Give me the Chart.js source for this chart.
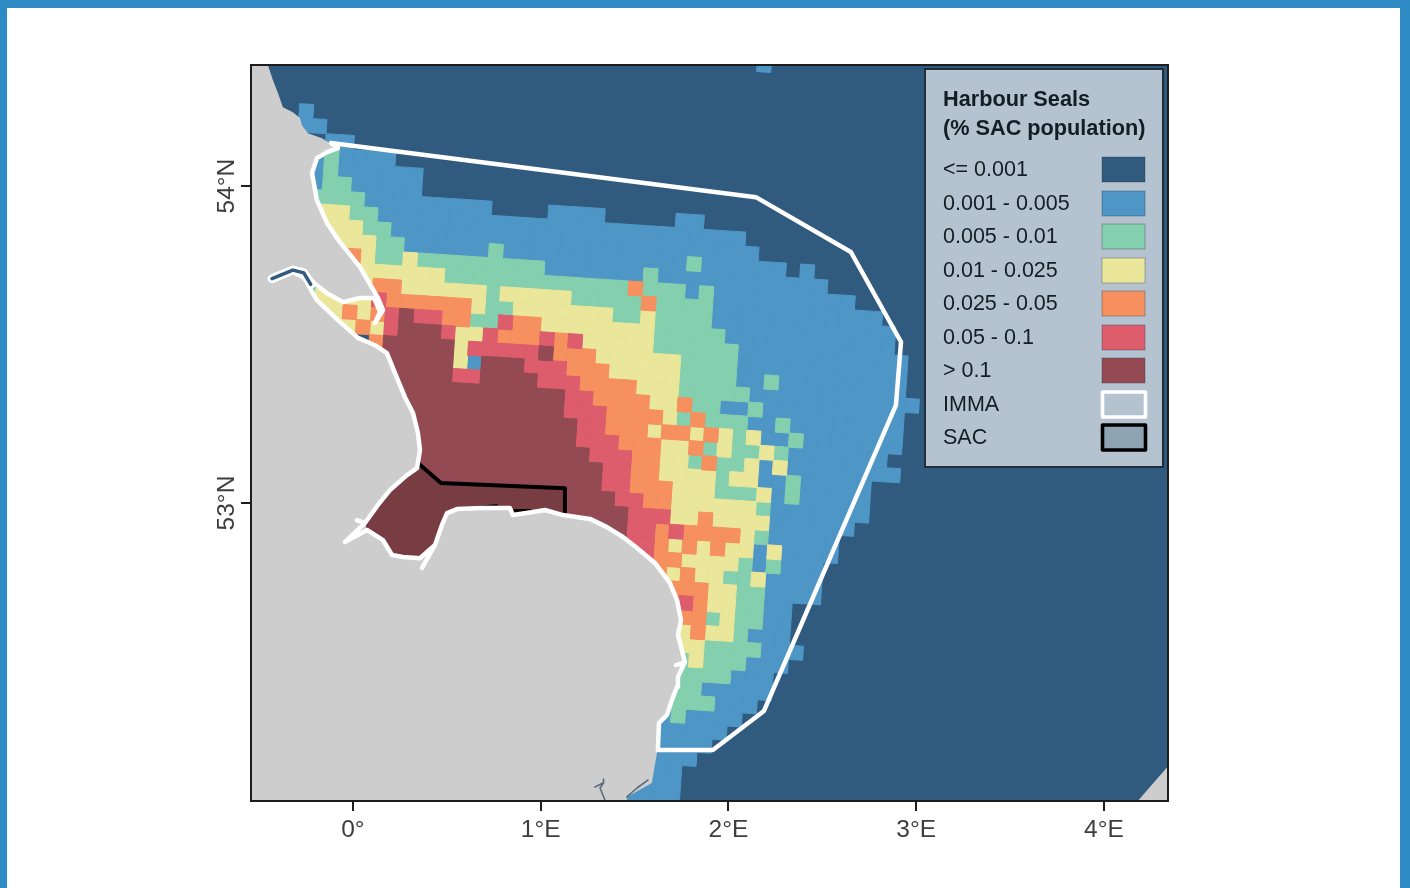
<!DOCTYPE html>
<html><head><meta charset="utf-8">
<style>
html,body{margin:0;padding:0;background:#2e8bc3;width:1410px;height:888px;overflow:hidden}
#panel{position:absolute;left:7px;top:8px;width:1393px;height:880px;background:#fff}
#c{position:absolute;left:0;top:0;filter:blur(0.35px)}
</style>
<script src="https://cdn.jsdelivr.net/npm/chart.js@4"></script>
</head><body><div id="panel"></div><canvas id="c" width="1410" height="888"></canvas>
<script>
const lonRange=[-0.543,4.341];
const latRange=[52.06,54.382];
const lonTicks=[0,1,2,3,4];
const lonTickLabels=["0°","1°E","2°E","3°E","4°E"];
const latTicks=[53,54];
const latTickLabels=["53°N","54°N"];
const legendTitle=["Harbour Seals","(% SAC population)"];
const classLabels=["<= 0.001","0.001 - 0.005","0.005 - 0.01","0.01 - 0.025","0.025 - 0.05","0.05 - 0.1","> 0.1"];
const classColors=["#305a7e","#4e96c6","#84d0ae","#ebe79a","#f6905f","#dd5d6c","#934a52"];

// raster cells: [row, "fromCol-toCol:class ..."]  class 2..7 (class 1 is the sea behind)
const cellRows=[
[-2.4,"32:2"],[3,"0:2"],[4,"0-1:2"],[5,"2-3:2"],
[6,"1:2 2:3 3-6:2"],[7,"1:2 2:3 3-8:2"],[8,"1:2 2-3:3 4-8:2"],
[9,"1-4:3 5-13:2 18-21:2 27-28:2"],
[10,"2-3:4 4-5:3 6-31:2"],
[11,"2-4:4 5-6:3 7-32:2"],
[12,"3-5:4 6-7:3 8-34:2 14:3 28:3 36:2"],
[13,"3:4 4:5 5:4 6-7:3 8:4 9-17:3 18-37:2 25:3"],
[14,"4-10:4 11-23:3 24:5 25-27:3 28:2 29:3 30-39:2"],
[15,"1:3 5:4 6-7:5 8-13:4 14:3 15-19:4 20-24:3 25:5 26-29:3 30-41:2"],
[16,"1:3 2-5:4 6:6 7-12:5 13:4 14-15:3 16-22:4 23-24:3 25:4 26-29:3 30-42:2"],
[17,"2-3:4 4:5 5:4 6:5 7:6 8:7 9-10:6 11-12:5 13-14:3 15:6 16-17:5 18-25:4 26-30:3 31-42:2"],
[18,"3-4:4 5:5 6:4 7:6 8-10:7 11:6 12-13:4 14:6 15-17:5 18:6 19:5 20:6 21-25:4 26-31:3 32-43:2"],
[19,"6:5 7-11:7 12:4 13-17:6 18:7 19-21:5 22-27:4 28-31:3 32-43:2"],
[20,"7-11:7 12:4 13:2 14-16:7 17-19:6 20-22:5 23-27:4 28-31:3 32-43:2 34:3"],
[21,"7-11:7 12-13:6 14-17:7 18-20:6 21-24:5 25-27:4 28-32:3 33-44:2"],
[22,"7-19:7 20-21:6 22-25:5 26-27:4 28:5 29-30:3 31-32:2 33:3 34-43:2"],
[23,"7-19:7 20-22:6 23-26:5 27:4 28:3 29:5 30-32:3 33-43:2 35:3"],
[24,"7-20:7 21-22:6 23-25:5 26:4 27-28:5 29:4 30:5 31:4 32:3 33:4 34-35:2 36:3 37-43:2"],
[25,"5-20:7 21-23:6 24-26:5 27-28:4 29:5 30:3 31:4 32-33:3 34:4 35:3 36-42:2"],
[26,"4-21:7 22-24:6 25-26:5 27-28:4 29:3 30:5 31-32:3 33:4 34:2 35:4 36-43:2"],
[27,"3-22:7 23-24:6 25-26:5 27-30:4 31:3 32-33:4 34-35:2 36:3 37-41:2"],
[28,"3-22:7 23-24:6 25-27:5 28-30:4 31-33:3 34:4 35:2 36:3 37-41:2"],
[29,"3-23:7 24-25:6 26-27:5 28-33:4 34:3 35-41:2"],
[30,"3-24:7 25-27:6 28-29:4 30:5 31-34:4 35-40:2"],
[31,"3-24:7 25-26:6 27:5 28:6 29-32:5 33:4 34:3 35-39:2"],
[32,"3-24:7 25-26:6 27:5 28:4 29:5 30:4 31:5 32-33:4 34:2 35:4 36-39:2"],
[33,"3-24:7 25-26:6 27-28:5 29-32:4 33:3 34:2 35:3 36-38:2"],
[34,"3-12:7 25-26:6 27:5 28:4 29:5 30-31:4 32-33:3 34:4 35-38:2"],
[35,"3-12:7 27-30:5 31-32:4 33-34:3 35-38:2"],
[36,"28:5 29:6 30:5 31-32:4 33-34:3 35-36:2"],
[37,"29-30:5 31:3 32:4 33-34:3 35-36:2"],
[38,"29:4 30:5 31-32:4 33:3 34-36:2"],
[39,"29-30:4 31-34:3 35-37:2"],
[40,"29:3 30:4 31-33:3 34-36:2"],
[41,"29-32:3 33-35:2"],
[42,"28:2 29-30:3 31-35:2"],
[43,"28:2 29-31:3 32-34:2"],
[44,"27-28:2 29:3 30-33:2"],
[45,"26-32:2"],[46,"26-31:2"],[47,"25-30:2"],[48,"25-29:2"],[49,"24-29:2"],[50,"23-29:2"]
];
// raster geometry in degrees (slightly rotated grid)
const gridOrigin=[-0.23365,54.3697], gridCol=[0.075366,-0.002946], gridRow=[-0.005007,-0.04444];

const coastNorth=[[-0.453,54.382],[-0.426,54.334],[-0.399,54.293],[-0.373,54.249],[-0.320,54.233],[-0.282,54.215],[-0.272,54.192],[-0.240,54.167],[-0.165,54.151],[-0.133,54.139]];
const coastMain=[[-0.080,54.120],[-0.138,54.107],[-0.192,54.088],[-0.218,54.041],[-0.192,53.956],[-0.138,53.883],[-0.069,53.823],[0.037,53.745],[0.133,53.647],[0.160,53.609],[0.117,53.568],[0.144,53.603],[0.112,53.647],[0.037,53.647],[-0.053,53.634],[-0.138,53.662],[-0.208,53.694],[-0.256,53.729],[-0.320,53.741],[-0.442,53.710],[-0.320,53.729],[-0.256,53.710],[-0.218,53.666],[-0.192,53.640],[-0.080,53.577],[0.027,53.521],[0.117,53.498],[0.181,53.473],[0.224,53.410],[0.277,53.334],[0.320,53.284],[0.346,53.221],[0.357,53.167]];
const coastWash=[[0.341,53.110],[0.288,53.088],[0.197,53.041],[0.133,52.994],[0.064,52.937],[0.075,52.915],[0.160,52.883],[0.208,52.836],[0.266,52.830],[0.357,52.826],[0.437,52.868],[0.474,52.931],[0.501,52.968],[0.554,52.981],[0.692,52.984],[0.836,52.984],[0.852,52.962],[0.959,52.972],[1.023,52.978],[1.118,52.962]];
const coastSouth=[[1.262,52.950],[1.353,52.924],[1.438,52.893],[1.513,52.858],[1.608,52.811],[1.688,52.748],[1.726,52.694],[1.747,52.631],[1.731,52.584],[1.752,52.536],[1.768,52.498],[1.731,52.451],[1.726,52.420],[1.699,52.379],[1.672,52.331],[1.630,52.306],[1.624,52.221]];
const coastBottom=[[1.619,52.211],[1.592,52.117],[1.459,52.073],[1.459,52.06]];
const landEast=[[4.18,52.06],[4.341,52.17],[4.341,52.06]];
const immaOffshore=[[-0.117,54.136],[2.146,53.965],[2.652,53.792],[2.919,53.508],[2.892,53.309],[2.189,52.344],[1.917,52.221],[1.624,52.221]];
const immaStubs=[[1.72,52.489],[0.367,52.795],[-0.043,52.877],[0.021,52.946]];
const sacBoundary=[[0.352,53.123],[0.469,53.063],[1.129,53.047],[1.129,52.962]];
const sacSpeckA=[[0.655,52.987],[0.767,52.994]];
const sacSpeckB=[[0.863,52.975],[0.943,52.975]];
const riverTail=[[-0.431,53.708],[-0.320,53.735],[-0.262,53.726],[-0.225,53.690]];
const creekA=[[1.289,52.104],[1.332,52.117],[1.337,52.129],[1.332,52.117],[1.316,52.101],[1.342,52.063]];
const creekB=[[1.459,52.073],[1.513,52.101],[1.571,52.126]];

const P=a=>a.map(p=>({x:p[0],y:p[1]}));
// expand raster rows into one point list per class
const cellsByClass={2:[],3:[],4:[],5:[],6:[],7:[]};
for(const [r,spec] of cellRows){
  const row={};
  for(const tok of spec.split(' ')){
    const [range,k]=tok.split(':');
    const [a,b]=range.split('-').map(Number);
    for(let c=a;c<=(b===undefined?a:b);c++) row[c]=+k;
  }
  for(const c in row){
    const i=+c;
    cellsByClass[row[c]].push({x:gridOrigin[0]+i*gridCol[0]+r*gridRow[0],y:gridOrigin[1]+i*gridCol[1]+r*gridRow[1]});
  }
}
const shape=(label,pts,color,order)=>({label,data:P(pts),showLine:true,fill:'shape',backgroundColor:color,borderColor:color,borderWidth:0,pointRadius:0,order});
const stroke=(label,pts,color,w,order)=>({label,data:P(pts),showLine:true,fill:false,borderColor:color,borderWidth:w,pointRadius:0,borderJoinStyle:'round',borderCapStyle:'round',order});

const datasets=[];
datasets.push(shape(classLabels[0],[[lonRange[0],latRange[1]],[lonRange[1],latRange[1]],[lonRange[1],latRange[0]],[lonRange[0],latRange[0]]],classColors[0],100));
for(let k=2;k<=7;k++){
  datasets.push({label:classLabels[k-1],data:cellsByClass[k],showLine:false,pointStyle:'rect',pointRotation:3.8,pointRadius:10,pointBorderWidth:1,
    backgroundColor:classColors[k-1],borderColor:classColors[k-1],pointBackgroundColor:classColors[k-1],pointBorderColor:classColors[k-1],clip:0,order:90-k});
}
datasets.push(shape('SAC area',[...sacBoundary,...coastWash.slice().reverse()],'rgba(0,0,0,0.18)',60));
const landOutline=[[lonRange[0],latRange[1]],...coastNorth,...coastMain,...coastWash,...coastSouth,...coastBottom,[lonRange[0],latRange[0]]];
datasets.push(shape('Land',landOutline,'#cdcdcd',50));
datasets.push(shape('Land east',landEast,'#cdcdcd',50));
datasets.push(stroke('Creek A',creekA,'#5c6b7a',1.6,45));
datasets.push(stroke('Creek B',creekB,'#5c6b7a',1.6,45));
datasets.push(stroke('SAC',sacBoundary,'#000',4,30));
datasets.push(stroke('SAC a',sacSpeckA,'#111',2,30));
datasets.push(stroke('SAC b',sacSpeckB,'#000',4,30));
// IMMA: offshore edge then back along the coast, with short spurs out and back
const south=coastSouth.slice().reverse(), wash=coastWash.slice().reverse(), main=coastMain.slice().reverse();
const imma=[...immaOffshore,...south.slice(1,7),immaStubs[0],...south.slice(6),
  ...wash.slice(0,10),immaStubs[1],...wash.slice(9,15),immaStubs[2],wash[15],immaStubs[3],...wash.slice(15),
  ...main,immaOffshore[0]];
datasets.push(stroke('IMMA',imma,'#fff',4.5,20));
datasets.push(stroke('River halo',riverTail,'#fff',9,11));
datasets.push(stroke('River',riverTail,classColors[0],3.5,10));

const legendPlugin={id:'mapLegend',afterDatasetsDraw(chart){
  const g=chart.ctx,a=chart.chartArea;
  g.save();
  g.strokeStyle='#1d1d1d';g.lineWidth=2;g.strokeRect(a.left,a.top,a.right-a.left,a.bottom-a.top);
  g.fillStyle='#b5c3d1';g.fillRect(925,69,238,398);
  g.strokeStyle='#1f2e3e';g.lineWidth=2;g.strokeRect(925,69,238,398);
  g.fillStyle='#141c24';g.textBaseline='middle';g.textAlign='left';
  g.font='bold 21.7px "Liberation Sans", Arial, sans-serif';
  g.fillText(legendTitle[0],943,100);g.fillText(legendTitle[1],943,129);
  g.font='21.5px "Liberation Sans", Arial, sans-serif';
  const ys=[169,203,236,270,303,337,370,404,437];
  classLabels.forEach((t,i)=>{
    g.fillStyle='#141c24';g.fillText(t,943,ys[i]+1);
    g.fillStyle=classColors[i];g.fillRect(1102,ys[i]-12,43,25);
    g.strokeStyle='rgba(40,50,60,.35)';g.lineWidth=1;g.strokeRect(1102,ys[i]-12,43,25);
  });
  g.fillStyle='#141c24';g.fillText('IMMA',943,ys[7]+1);g.fillText('SAC',943,ys[8]+1);
  g.lineJoin='round';
  g.strokeStyle='#fff';g.lineWidth=3.6;g.strokeRect(1102.5,ys[7]-12,43,25);
  g.fillStyle='#8fa4b2';g.fillRect(1102.5,ys[8]-12,43,25);
  g.strokeStyle='#000';g.lineWidth=3.6;g.strokeRect(1102.5,ys[8]-12,43,25);
  g.restore();
}};

new Chart(document.getElementById('c'),{
  type:'scatter',
  data:{datasets},
  plugins:[legendPlugin],
  options:{
    responsive:false,animation:false,devicePixelRatio:1,events:[],
    layout:{padding:{left:200,right:242,top:65,bottom:37}},
    plugins:{legend:{display:false},tooltip:{enabled:false},title:{display:false}},
    scales:{
      x:{type:'linear',min:lonRange[0],max:lonRange[1],
        afterBuildTicks:s=>{s.ticks=lonTicks.map(v=>({value:v}));},
        afterFit:s=>{s.height=50;},
        grid:{drawOnChartArea:false,tickLength:10,color:'#1d1d1d',lineWidth:2},border:{color:'#1d1d1d',width:2},
        ticks:{padding:5,color:'#3d3d3d',maxRotation:0,font:{size:24.5,family:'"Liberation Sans", Arial, sans-serif'},
          callback:v=>lonTickLabels[lonTicks.indexOf(v)]}},
      y:{type:'linear',min:latRange[0],max:latRange[1],
        afterBuildTicks:s=>{s.ticks=latTicks.map(v=>({value:v}));},
        afterFit:s=>{s.width=51;},
        grid:{drawOnChartArea:false,tickLength:10,color:'#1d1d1d',lineWidth:2},border:{color:'#1d1d1d',width:2},
        ticks:{padding:-14,crossAlign:'center',minRotation:90,maxRotation:90,color:'#3d3d3d',font:{size:24.5,family:'"Liberation Sans", Arial, sans-serif'},
          callback:v=>latTickLabels[latTicks.indexOf(v)]}}
    }
  }
});
</script></body></html>
